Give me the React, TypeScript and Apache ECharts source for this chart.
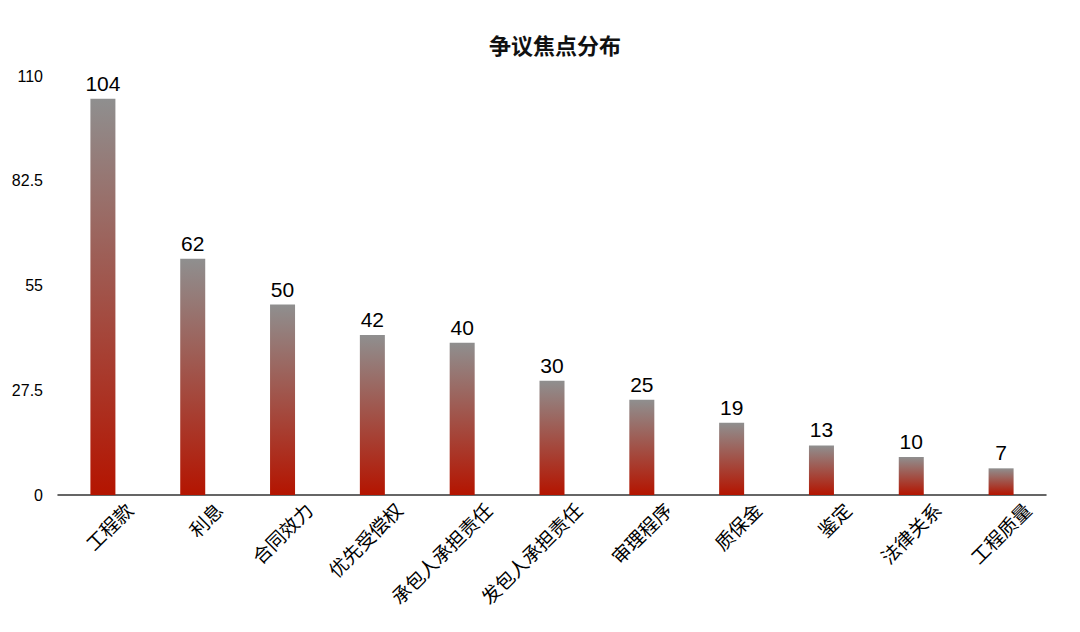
import { useEffect, useRef } from 'react';
import * as echarts from 'echarts';

const categories = ['工程款', '利息', '合同效力', '优先受偿权', '承包人承担责任', '发包人承担责任', '审理程序', '质保金', '鉴定', '法律关系', '工程质量'];
const counts = [104, 62, 50, 42, 40, 30, 25, 19, 13, 10, 7];
const yTicks = { min: 0, max: 110, interval: 27.5 };

const FONT = '"Liberation Sans", "Noto Sans CJK SC", sans-serif';
const CJK = '"Noto Sans CJK SC", sans-serif';

export default function App() {
  const ref = useRef<HTMLDivElement>(null);

  useEffect(() => {
    document.body.style.margin = '0';
    const dom = ref.current;
    if (!dom) return;
    const chart = echarts.init(dom, undefined, { renderer: 'svg' });

    chart.setOption({
      animation: false,
      title: {
        text: '争议焦点分布',
        // centred over the plot area, not the page
        left: 550,
        textAlign: 'center',
        top: 28,
        textStyle: { fontFamily: CJK, fontSize: 22, fontWeight: 'bold', color: '#111' },
      },
      grid: { left: 58, right: 34, top: 76, bottom: 137, outerBoundsMode: 'none' },
      xAxis: {
        type: 'category',
        data: categories,
        axisLine: { lineStyle: { color: '#333', width: 1.5 } },
        axisTick: { show: false },
        axisLabel: {
          rotate: 45,
          interval: 0,
          // the source chart hangs its labels lower and to the right of the tick
          margin: -15,
          lineHeight: 73,
          verticalAlign: 'top',
          color: '#000',
          fontFamily: CJK,
          fontSize: 19,
        },
      },
      yAxis: {
        type: 'value',
        min: yTicks.min,
        max: yTicks.max,
        interval: yTicks.interval,
        splitLine: { show: false },
        axisLine: { show: false },
        axisTick: { show: false },
        axisLabel: { color: '#000', fontFamily: FONT, fontSize: 16, margin: 15 },
      },
      series: [
        {
          type: 'bar',
          data: counts,
          barWidth: 25,
          itemStyle: {
            color: new echarts.graphic.LinearGradient(0, 0, 0, 1, [
              { offset: 0, color: '#8f8f8f' },
              { offset: 1, color: '#b41400' },
            ]),
          },
          label: {
            show: true,
            position: 'top',
            distance: 5,
            color: '#000',
            fontFamily: FONT,
            fontSize: 21,
          },
        },
      ],
    });

    return () => chart.dispose();
  }, []);

  return <div ref={ref} style={{ width: 1080, height: 632 }} />;
}
